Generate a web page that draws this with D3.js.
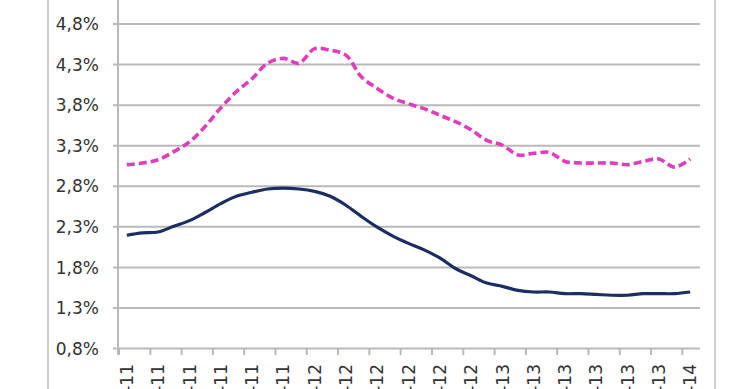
<!DOCTYPE html>
<html>
<head>
<meta charset="utf-8">
<script src="https://cdn.jsdelivr.net/npm/d3@7"></script>
<style>
  html, body { margin: 0; padding: 0; background: #fff; }
  svg { display: block; }
</style>
</head>
<body>
<div id="chart"></div>
<script>
// monthly categories ene-11 .. ene-14
const MONTHS = ["ene","feb","mar","abr","may","jun","jul","ago","sep","oct","nov","dic"]
const categories = []
for (let y = 11; y <= 14; y++) {
    MONTHS.forEach(m => { if (categories.length < 37) categories.push(m + "-" + y) })
}

// values in %
const seriesDashed = [3.06, 3.08, 3.12, 3.22, 3.34, 3.53, 3.76, 3.96, 4.12, 4.31, 4.37, 4.31,
    4.49, 4.47, 4.41, 4.14, 4.00, 3.88, 3.81, 3.75, 3.67, 3.59, 3.49, 3.36,
    3.30, 3.18, 3.20, 3.21, 3.10, 3.08, 3.08, 3.08, 3.06, 3.10, 3.13, 3.03, 3.13]
const seriesSolid = [2.19, 2.22, 2.23, 2.30, 2.37, 2.47, 2.58, 2.67, 2.72, 2.76, 2.77, 2.76,
    2.73, 2.67, 2.56, 2.42, 2.29, 2.18, 2.09, 2.01, 1.91, 1.78, 1.69, 1.60,
    1.56, 1.51, 1.49, 1.49, 1.47, 1.47, 1.46, 1.45, 1.45, 1.47, 1.47, 1.47, 1.49]
const yTicks = [0.8, 1.3, 1.8, 2.3, 2.8, 3.3, 3.8, 4.3, 4.8]

const W = 740, H = 389
const PLOT = { LEFT: 119, RIGHT: 698, TOP: 23.5, BOTTOM: 348 }

const svg = d3.select("#chart").append("svg")
    .attr("width", W)
    .attr("height", H)

// outer frame lines of the chart area
svg.append("line").attr("x1", 48).attr("x2", 48).attr("y1", 0).attr("y2", H)
    .attr("stroke", "#cfcfcf").attr("stroke-width", 2)
svg.append("line").attr("x1", 715).attr("x2", 715).attr("y1", 0).attr("y2", H)
    .attr("stroke", "#cfcfcf").attr("stroke-width", 2)

const x = d3.scaleBand()
    .domain(categories)
    .range([PLOT.LEFT, PLOT.RIGHT])
    .paddingInner(0).paddingOuter(0)

const y = d3.scaleLinear()
    .domain([0.8, 4.8])
    .range([PLOT.BOTTOM, PLOT.TOP])

const esLocale = d3.formatLocale({ decimal: ",", thousands: ".", grouping: [3], currency: ["", "€"] })
const fmt = v => esLocale.format(".1f")(v) + "%"

// y axis + gridlines
const yAxisGroup = svg.append("g")
    .attr("transform", `translate(${PLOT.LEFT}, 0)`)
    .call(d3.axisLeft(y).tickValues(yTicks).tickFormat(fmt).tickSize(0))
yAxisGroup.select(".domain").remove()
yAxisGroup.selectAll(".tick line")
    .attr("x1", -6)
    .attr("x2", PLOT.RIGHT + 2 - PLOT.LEFT)
    .attr("stroke", "#b9b9b9")
    .attr("stroke-width", 2)
yAxisGroup.selectAll(".tick text")
    .attr("x", -20)
    .attr("dy", "0.36em")
    .attr("fill", "#333")
    .style("font-family", "DejaVu Sans, Verdana, sans-serif")
    .style("font-size", "17px")

// vertical axis line
svg.append("line")
    .attr("x1", PLOT.LEFT - 1).attr("x2", PLOT.LEFT - 1)
    .attr("y1", 0).attr("y2", PLOT.BOTTOM + 7)
    .attr("stroke", "#b9b9b9").attr("stroke-width", 2)

// x axis: tick every two months at band start, label at band centre
const tickCats = categories.filter((d, i) => i % 2 === 0)
const xAxisGroup = svg.append("g")
    .attr("transform", `translate(0, ${PLOT.BOTTOM})`)
xAxisGroup.selectAll("line.tick")
    .data(tickCats)
    .enter().append("line")
    .attr("class", "tick")
    .attr("x1", d => x(d)).attr("x2", d => x(d))
    .attr("y1", 0).attr("y2", 7)
    .attr("stroke", "#b9b9b9").attr("stroke-width", 2)
xAxisGroup.selectAll("text")
    .data(tickCats)
    .enter().append("text")
    .attr("transform", d => `translate(${x(d) + x.bandwidth() / 2}, 16) rotate(-90)`)
    .attr("text-anchor", "end")
    .attr("dy", "0.36em")
    .attr("fill", "#333")
    .style("font-family", "DejaVu Sans, Verdana, sans-serif")
    .style("font-size", "17px")
    .text(d => d)

const line = d3.line()
    .x((d, i) => x(categories[i]) + x.bandwidth() / 2)
    .y(d => y(d))
    .curve(d3.curveCatmullRom.alpha(0.5))

svg.append("path")
    .datum(seriesSolid)
    .attr("d", line)
    .attr("fill", "none")
    .attr("stroke", "#1c2d63")
    .attr("stroke-width", 3.2)

svg.append("path")
    .datum(seriesDashed)
    .attr("d", line)
    .attr("fill", "none")
    .attr("stroke", "#e23cbd")
    .attr("stroke-width", 3.6)
    .attr("stroke-dasharray", "8,4")
</script>
</body>
</html>
